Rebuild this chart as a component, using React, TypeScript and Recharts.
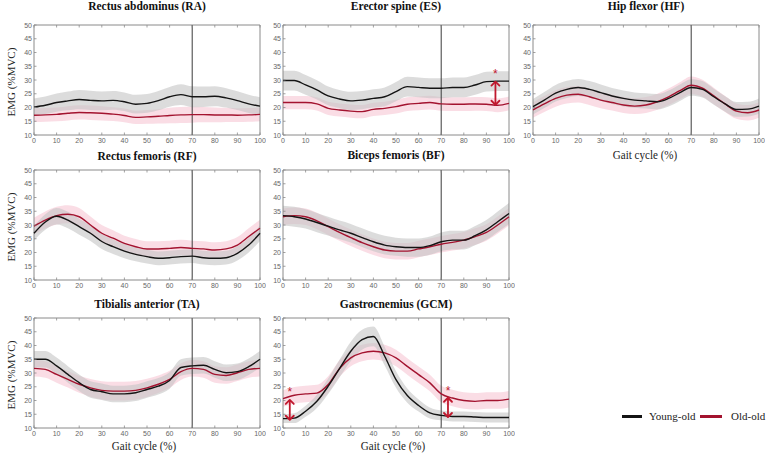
import React from "react";
import {
  ComposedChart,
  Area,
  Line,
  XAxis,
  YAxis,
  ReferenceLine,
  ReferenceDot,
  ReferenceArea,
} from "recharts";

// gait cycle sample points (%)
const GAIT = [0, 5, 10, 15, 20, 25, 30, 35, 40, 45, 50, 55, 60, 65, 70, 75, 80, 85, 90, 95, 100];
const X_TICKS = [0, 10, 20, 30, 40, 50, 60, 70, 80, 90, 100];
const Y_TICKS = [10, 15, 20, 25, 30, 35, 40, 45, 50];

// mean EMG (%MVC) and SD per muscle, young-old vs old-old
const RA_YOUNG = [20.1, 20.8, 21.8, 22.4, 22.9, 22.6, 22.4, 22.6, 22.1, 21.2, 21.5, 22.5, 23.9, 24.7, 23.9, 23.9, 24.1, 23.5, 22.5, 21.3, 20.5];
const RA_OLD = [17.2, 17.3, 17.5, 17.9, 18.2, 18.1, 17.9, 17.6, 17.1, 16.4, 16.6, 16.8, 17.1, 17.3, 17.4, 17.4, 17.3, 17.3, 17.2, 17.3, 17.5];
const RA_YOUNG_SD = [3.2, 3.2, 3.3, 3.4, 3.5, 3.5, 3.4, 3.4, 3.4, 3.4, 3.4, 3.5, 3.6, 3.8, 3.8, 3.7, 3.6, 3.5, 3.4, 3.3, 3.2];
const RA_OLD_SD = [2.5, 2.5, 2.5, 2.6, 2.6, 2.6, 2.6, 2.5, 2.5, 2.4, 2.5, 2.6, 2.8, 2.9, 2.9, 2.8, 2.7, 2.6, 2.5, 2.5, 2.5];

const ES_YOUNG = [29.8, 29.8, 28.2, 26.4, 24.2, 23.1, 22.4, 22.7, 23.3, 23.9, 25.8, 27.6, 27.3, 27.0, 27.0, 27.3, 27.3, 28.2, 29.4, 29.6, 29.6];
const ES_OLD = [21.8, 21.8, 21.8, 21.3, 19.7, 19.1, 18.7, 18.5, 19.3, 19.7, 20.3, 21.2, 21.5, 21.8, 21.3, 21.2, 21.2, 21.3, 21.2, 20.8, 21.5];
const ES_YOUNG_SD = [3.6, 3.6, 3.6, 3.5, 3.4, 3.3, 3.3, 3.3, 3.3, 3.4, 3.5, 3.6, 3.6, 3.6, 3.6, 3.6, 3.6, 3.6, 3.6, 3.6, 3.6];
const ES_OLD_SD = [2.4, 2.4, 2.4, 2.4, 2.4, 2.4, 2.4, 2.4, 2.4, 2.4, 2.5, 2.5, 2.5, 2.5, 2.5, 2.5, 2.5, 2.5, 2.5, 2.5, 2.5];
const ES_SIG = [{ x: 94, lo: 21.0, hi: 29.4, star: 32.6 }];

const HF_YOUNG = [20.3, 22.7, 25.2, 26.6, 27.3, 26.6, 25.4, 24.2, 23.3, 22.7, 22.4, 22.1, 23.3, 25.4, 27.3, 26.6, 23.9, 21.3, 19.3, 19.4, 20.5];
const HF_OLD = [19.1, 21.3, 23.3, 24.5, 24.8, 23.9, 22.7, 21.8, 20.9, 20.5, 20.9, 22.1, 23.9, 26.1, 28.1, 27.0, 24.2, 21.3, 18.7, 18.1, 19.1];
const HF_YOUNG_SD = [2.8, 2.9, 3.0, 3.1, 3.1, 3.0, 3.0, 2.9, 2.9, 2.8, 2.8, 2.8, 2.9, 3.0, 3.0, 3.0, 2.9, 2.8, 2.7, 2.7, 2.8];
const HF_OLD_SD = [2.8, 2.9, 3.0, 3.0, 3.0, 3.0, 3.0, 2.9, 2.9, 2.9, 2.9, 2.9, 3.0, 3.1, 3.2, 3.1, 3.0, 2.9, 2.8, 2.8, 2.8];

const RF_YOUNG = [27.0, 31.1, 33.2, 31.8, 29.4, 27.0, 24.0, 22.1, 20.5, 19.3, 18.5, 17.9, 18.1, 18.5, 18.7, 18.1, 17.9, 18.1, 19.7, 22.7, 27.0];
const RF_OLD = [29.6, 31.8, 33.4, 33.9, 33.0, 30.0, 27.0, 25.2, 23.3, 22.1, 21.3, 21.3, 21.5, 21.8, 21.5, 21.3, 20.9, 21.3, 22.7, 25.8, 28.8];
const RF_YOUNG_SD = [2.6, 2.8, 3.0, 3.0, 2.9, 2.8, 2.7, 2.6, 2.6, 2.5, 2.5, 2.5, 2.5, 2.5, 2.5, 2.5, 2.5, 2.5, 2.6, 2.7, 2.8];
const RF_OLD_SD = [3.0, 3.1, 3.2, 3.3, 3.2, 3.1, 3.0, 2.9, 2.8, 2.8, 2.8, 2.8, 2.8, 2.8, 2.8, 2.8, 2.8, 2.8, 2.9, 3.0, 3.1];

const BF_YOUNG = [33.4, 33.0, 32.2, 30.9, 29.6, 28.2, 27.0, 25.4, 23.9, 22.7, 22.1, 21.8, 21.8, 22.5, 23.9, 24.5, 24.5, 26.1, 28.2, 31.2, 34.2];
const BF_OLD = [33.0, 33.4, 33.0, 31.5, 29.4, 27.3, 25.4, 23.6, 22.1, 20.9, 20.5, 20.5, 21.3, 22.1, 23.0, 23.7, 24.5, 25.8, 27.3, 30.0, 33.0];
const BF_YOUNG_SD = [3.6, 3.6, 3.5, 3.5, 3.4, 3.4, 3.4, 3.4, 3.4, 3.4, 3.3, 3.3, 3.3, 3.3, 3.4, 3.4, 3.4, 3.5, 3.6, 3.7, 3.8];
const BF_OLD_SD = [3.0, 3.0, 3.0, 3.0, 3.0, 3.0, 3.0, 3.0, 3.0, 3.0, 3.0, 3.0, 3.0, 3.0, 3.0, 3.0, 3.0, 3.0, 3.0, 3.1, 3.2];

const TA_YOUNG = [35.0, 35.0, 32.6, 29.5, 26.5, 24.0, 23.2, 22.4, 22.4, 22.8, 24.0, 25.2, 27.3, 32.0, 32.6, 32.8, 31.3, 30.1, 30.5, 32.3, 35.0];
const TA_OLD = [31.7, 31.3, 29.5, 27.7, 25.9, 24.6, 23.7, 23.4, 23.4, 23.7, 24.6, 25.9, 27.7, 30.5, 31.7, 31.3, 29.5, 29.1, 30.1, 31.3, 31.7];
const TA_YOUNG_SD = [3.0, 3.0, 3.0, 3.0, 3.0, 3.0, 3.0, 3.0, 3.0, 3.0, 3.0, 3.0, 3.0, 3.0, 3.0, 3.0, 3.0, 3.0, 3.0, 3.0, 3.0];
const TA_OLD_SD = [3.0, 3.0, 3.0, 3.0, 3.1, 3.2, 3.3, 3.4, 3.4, 3.4, 3.3, 3.2, 3.1, 3.0, 3.0, 3.0, 3.0, 3.0, 3.0, 3.0, 3.0];

const GCM_YOUNG = [13.4, 13.6, 16.1, 19.7, 25.2, 31.6, 37.9, 42.1, 43.3, 36.1, 27.6, 21.8, 18.2, 15.5, 14.6, 14.2, 14.2, 14.0, 13.8, 13.8, 13.8];
const GCM_OLD = [20.7, 21.9, 22.4, 22.7, 25.8, 31.6, 35.5, 37.3, 37.9, 37.3, 35.5, 32.4, 29.4, 26.4, 22.4, 20.9, 20.0, 19.7, 20.0, 20.0, 20.5];
const GCM_YOUNG_SD = [1.6, 1.8, 2.0, 2.4, 2.8, 3.2, 3.5, 3.6, 3.6, 3.4, 3.0, 2.6, 2.2, 2.0, 1.8, 1.8, 1.8, 1.8, 1.8, 1.8, 1.8];
const GCM_OLD_SD = [3.0, 3.0, 3.0, 3.0, 3.0, 3.0, 3.0, 3.0, 3.0, 3.0, 3.0, 3.0, 3.0, 3.0, 3.0, 3.0, 3.0, 3.0, 3.0, 3.0, 3.0];
const GCM_SIG = [
  { x: 3, lo: 13.0, hi: 20.2, star: 23.4 },
  { x: 73, lo: 14.0, hi: 21.0, star: 24.0 },
];

const STANCE_END = 70;

const YOUNG_COLOR = "#141414";
const OLD_COLOR = "#a3132f";
const SIG_COLOR = "#c0182e";
const AXIS_COLOR = "#8a8a8a";
const SERIF = "'Liberation Serif', 'DejaVu Serif', serif";
const SANS = "'Liberation Sans', Arial, sans-serif";

interface Sig {
  x: number;
  lo: number;
  hi: number;
  star: number;
}

interface PanelDef {
  title: string;
  titleY: number;
  left: number;
  top: number;
  young: number[];
  old: number[];
  youngSd: number[];
  oldSd: number[];
  sig?: Sig[];
}

const PLOT_W = 226;
const PLOT_H = 110;
const ML = 34;
const MR = 6;
const MT = 4;
const MB = 16;

const PANELS: PanelDef[] = [
  { title: "Rectus abdominus (RA)", titleY: 6, left: 34, top: 25, young: RA_YOUNG, old: RA_OLD, youngSd: RA_YOUNG_SD, oldSd: RA_OLD_SD },
  { title: "Erector spine (ES)", titleY: 6, left: 283, top: 25, young: ES_YOUNG, old: ES_OLD, youngSd: ES_YOUNG_SD, oldSd: ES_OLD_SD, sig: ES_SIG },
  { title: "Hip flexor (HF)", titleY: 6, left: 533, top: 25, young: HF_YOUNG, old: HF_OLD, youngSd: HF_YOUNG_SD, oldSd: HF_OLD_SD },
  { title: "Rectus femoris (RF)", titleY: 156, left: 34, top: 170, young: RF_YOUNG, old: RF_OLD, youngSd: RF_YOUNG_SD, oldSd: RF_OLD_SD },
  { title: "Biceps femoris (BF)", titleY: 155, left: 283, top: 170, young: BF_YOUNG, old: BF_OLD, youngSd: BF_YOUNG_SD, oldSd: BF_OLD_SD },
  { title: "Tibialis anterior (TA)", titleY: 304, left: 34, top: 318, young: TA_YOUNG, old: TA_OLD, youngSd: TA_YOUNG_SD, oldSd: TA_OLD_SD },
  { title: "Gastrocnemius (GCM)", titleY: 304, left: 283, top: 318, young: GCM_YOUNG, old: GCM_OLD, youngSd: GCM_YOUNG_SD, oldSd: GCM_OLD_SD, sig: GCM_SIG },
];

// x label positions (center x, center y)
const GAIT_LABELS = [
  [645, 155],
  [144, 446],
  [393, 446],
];
const EMG_LABEL_Y = [82, 227, 375];

function BottomTick(props: any) {
  const { x, y, payload } = props;
  return (
    <g>
      <line x1={x} y1={y} x2={x} y2={y - 2.5} stroke={AXIS_COLOR} strokeWidth={0.8} />
      <text x={x} y={y + 8} textAnchor="middle" fontSize={7} fill="#666" fontFamily={SANS}>
        {payload.value}
      </text>
    </g>
  );
}

function TopTick(props: any) {
  const { x, y } = props;
  return <line x1={x} y1={y} x2={x} y2={y + 2.5} stroke={AXIS_COLOR} strokeWidth={0.8} />;
}

function LeftTick(props: any) {
  const { x, y, payload } = props;
  return (
    <g>
      <line x1={x} y1={y} x2={x + 2.5} y2={y} stroke={AXIS_COLOR} strokeWidth={0.8} />
      <text x={x - 2} y={y + 2.5} textAnchor="end" fontSize={7} fill="#666" fontFamily={SANS}>
        {payload.value}
      </text>
    </g>
  );
}

function RightTick(props: any) {
  const { x, y } = props;
  return <line x1={x} y1={y} x2={x - 2.5} y2={y} stroke={AXIS_COLOR} strokeWidth={0.8} />;
}

function SigArrow(props: any) {
  const { x1, y1, x2, y2 } = props;
  if (x1 == null || y1 == null) return null;
  const top = Math.min(y1, y2);
  const bot = Math.max(y1, y2);
  const w = 4;
  const h = 4;
  return (
    <g stroke={SIG_COLOR} strokeWidth={1.8} fill="none" strokeLinecap="round" strokeLinejoin="round">
      <line x1={x1} y1={top + 0.5} x2={x1} y2={bot - 0.5} />
      <polyline points={`${x1 - w},${top + h} ${x1},${top} ${x1 + w},${top + h}`} />
      <polyline points={`${x1 - w},${bot - h} ${x1},${bot} ${x1 + w},${bot - h}`} />
    </g>
  );
}

function Star(props: any) {
  const { cx, cy } = props;
  if (cx == null || cy == null) return null;
  return (
    <text x={cx} y={cy + 5} textAnchor="middle" fontSize={12} fill={SIG_COLOR} fontFamily={SANS}>
      *
    </text>
  );
}

function Panel({ def }: { def: PanelDef }) {
  const data = GAIT.map((x, i) => ({
    x,
    young: def.young[i],
    old: def.old[i],
    youngBand: [def.young[i] - def.youngSd[i], def.young[i] + def.youngSd[i]],
    oldBand: [def.old[i] - def.oldSd[i], def.old[i] + def.oldSd[i]],
  }));

  return (
    <div style={{ position: "absolute", left: def.left - ML, top: def.top - MT }}>
      <ComposedChart
        width={PLOT_W + ML + MR}
        height={PLOT_H + MT + MB}
        data={data}
        margin={{ top: 0, right: 0, bottom: 0, left: 0 }}
      >
        <XAxis
          dataKey="x"
          type="number"
          domain={[0, 100]}
          ticks={X_TICKS}
          height={MB}
          tickSize={0}
          tickMargin={0}
          tick={<BottomTick />}
          axisLine={false}
          interval={0}
        />
        <XAxis
          xAxisId="top"
          dataKey="x"
          type="number"
          orientation="top"
          domain={[0, 100]}
          ticks={X_TICKS}
          height={MT}
          tickSize={0}
          tickMargin={0}
          tick={<TopTick />}
          axisLine={false}
          interval={0}
        />
        <YAxis
          type="number"
          domain={[10, 50]}
          ticks={Y_TICKS}
          width={ML}
          tickSize={0}
          tickMargin={0}
          tick={<LeftTick />}
          axisLine={false}
          interval={0}
        />
        <YAxis
          yAxisId="right"
          orientation="right"
          type="number"
          domain={[10, 50]}
          ticks={Y_TICKS}
          width={MR}
          tickSize={0}
          tickMargin={0}
          tick={<RightTick />}
          axisLine={false}
          interval={0}
        />
        <Area
          dataKey="oldBand"
          type="monotone"
          fill="#f5bccb"
          fillOpacity={0.5}
          stroke="none"
          isAnimationActive={false}
        />
        <Area
          dataKey="youngBand"
          type="monotone"
          fill="#c4c4c4"
          fillOpacity={0.6}
          stroke="none"
          isAnimationActive={false}
        />
        <ReferenceLine x={STANCE_END} stroke="#3a3a3a" strokeWidth={1} />
        <Line
          dataKey="old"
          type="monotone"
          stroke={OLD_COLOR}
          strokeWidth={1.4}
          dot={false}
          isAnimationActive={false}
        />
        <Line
          dataKey="young"
          type="monotone"
          stroke={YOUNG_COLOR}
          strokeWidth={1.4}
          dot={false}
          isAnimationActive={false}
        />
        {(def.sig ?? []).map((s, i) => (
          <ReferenceLine
            key={`a${i}`}
            segment={[
              { x: s.x, y: s.lo },
              { x: s.x, y: s.hi },
            ]}
            shape={<SigArrow />}
          />
        ))}
        {(def.sig ?? []).map((s, i) => (
          <ReferenceDot key={`s${i}`} x={s.x} y={s.star} r={0} shape={<Star />} />
        ))}
        <ReferenceArea x1={0} x2={100} y1={10} y2={50} fill="none" stroke={AXIS_COLOR} strokeWidth={1} />
      </ComposedChart>
    </div>
  );
}

const titleStyle: React.CSSProperties = {
  position: "absolute",
  width: 200,
  textAlign: "center",
  fontFamily: SERIF,
  fontWeight: "bold",
  fontSize: 11.5,
  lineHeight: "14px",
  color: "#111",
  whiteSpace: "nowrap",
};

const gaitStyle: React.CSSProperties = {
  position: "absolute",
  width: 120,
  textAlign: "center",
  fontFamily: SERIF,
  fontSize: 12,
  lineHeight: "14px",
  color: "#222",
  whiteSpace: "nowrap",
  transform: "scaleX(0.92)",
};

export default function App() {
  return (
    <div
      style={{
        position: "absolute",
        left: 0,
        top: 0,
        width: 767,
        height: 454,
        background: "#fff",
        overflow: "hidden",
      }}
    >
      {PANELS.map((p) => (
        <Panel key={p.title} def={p} />
      ))}
      {PANELS.map((p) => (
        <div
          key={`t-${p.title}`}
          style={{ ...titleStyle, left: p.left + PLOT_W / 2 - 100, top: p.titleY - 7 }}
        >
          {p.title}
        </div>
      ))}
      {GAIT_LABELS.map(([cx, cy], i) => (
        <div key={`g${i}`} style={{ ...gaitStyle, left: cx - 60, top: cy - 7 }}>
          Gait cycle (%)
        </div>
      ))}
      {EMG_LABEL_Y.map((cy, i) => (
        <div
          key={`e${i}`}
          style={{
            position: "absolute",
            left: 11 - 50,
            top: cy - 7,
            width: 100,
            textAlign: "center",
            fontFamily: SERIF,
            fontSize: 11,
            lineHeight: "14px",
            color: "#222",
            whiteSpace: "nowrap",
            transform: "rotate(-90deg)",
          }}
        >
          EMG (%MVC)
        </div>
      ))}
      {/* legend */}
      <div style={{ position: "absolute", left: 622, top: 415, width: 20, height: 2.5, background: YOUNG_COLOR }} />
      <div
        style={{
          position: "absolute",
          left: 649,
          top: 409,
          fontFamily: SERIF,
          fontSize: 11,
          lineHeight: "14px",
          color: "#222",
          whiteSpace: "nowrap",
        }}
      >
        Young-old
      </div>
      <div style={{ position: "absolute", left: 700, top: 415, width: 22, height: 2.5, background: OLD_COLOR }} />
      <div
        style={{
          position: "absolute",
          left: 731,
          top: 409,
          fontFamily: SERIF,
          fontSize: 11,
          lineHeight: "14px",
          color: "#222",
          whiteSpace: "nowrap",
        }}
      >
        Old-old
      </div>
    </div>
  );
}
